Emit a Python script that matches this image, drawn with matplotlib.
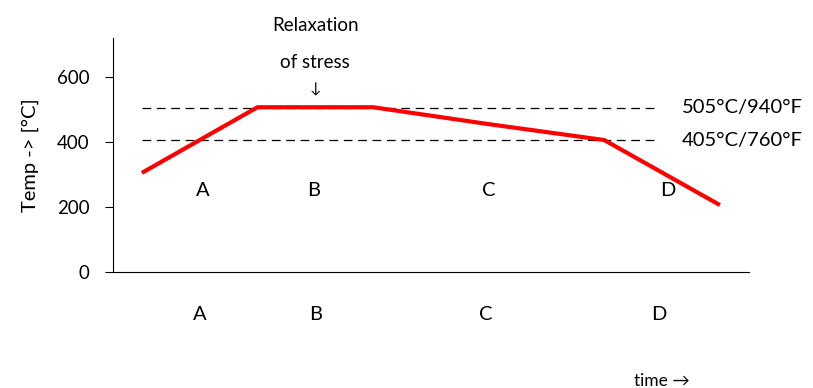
import matplotlib
matplotlib.use("Agg")
import matplotlib.pyplot as plt

plt.rcParams['font.family'] = ['Lato', 'DejaVu Sans']

# heat treatment curve
time_pts = [0.5, 2.5, 4.5, 6.5, 8.5, 10.5]
temp_pts = [305, 507, 507, 455, 406, 206]

# reference temperatures
ref_temps = [505, 405]
ref_labels = ['505°C/940°F', '405°C/760°F']
ref_span = [0.5, 9.4]

# phase letters
phases = ['A', 'B', 'C', 'D']
phase_x_in = [1.55, 3.47, 6.5, 9.6]
phase_x_out = [1.5, 3.5, 6.45, 9.45]

yticks = [0, 200, 400, 600]

fig = plt.figure(figsize=(8.13, 3.88), dpi=100)
ax = fig.add_axes([0.139, 0.299, 0.782, 0.603])

for t in ref_temps:
    ax.plot(ref_span, [t, t], color='black', lw=0.9, dashes=(7, 4.5))
for t, lab in zip(ref_temps, ref_labels):
    ax.text(9.84, t, lab, fontsize=14.5, va='center', ha='left', clip_on=False)

ax.plot(time_pts, temp_pts, color='#ff0000', lw=3, solid_capstyle='butt')

for p, x in zip(phases, phase_x_in):
    ax.text(x, 252, p, fontsize=14.5, ha='center', va='center')
for p, x in zip(phases, phase_x_out):
    ax.text(x, -130, p, fontsize=14.5, ha='center', va='center', clip_on=False)

ax.text(3.5, 760, 'Relaxation', fontsize=13.5, ha='center', va='center', clip_on=False)
ax.text(3.5, 645, 'of stress', fontsize=13.5, ha='center', va='center', clip_on=False)
ax.text(3.5, 563, '↓', fontsize=11, ha='center', va='center', clip_on=False)
ax.text(9.5, -335, 'time →', fontsize=12.5, ha='center', va='center', clip_on=False)

ax.set_xlim(0, 11)
ax.set_ylim(0, 720)
ax.set_yticks(yticks)
ax.set_xticks([])
ax.tick_params(axis='y', length=6, width=0.8, pad=11, labelsize=13.5)
ax.spines['top'].set_visible(False)
ax.spines['right'].set_visible(False)
ax.spines['left'].set_linewidth(0.8)
ax.spines['bottom'].set_linewidth(0.8)
ax.set_ylabel('Temp -> [°C]', fontsize=14.5, labelpad=13)

fig.savefig('out.png', dpi=100)
